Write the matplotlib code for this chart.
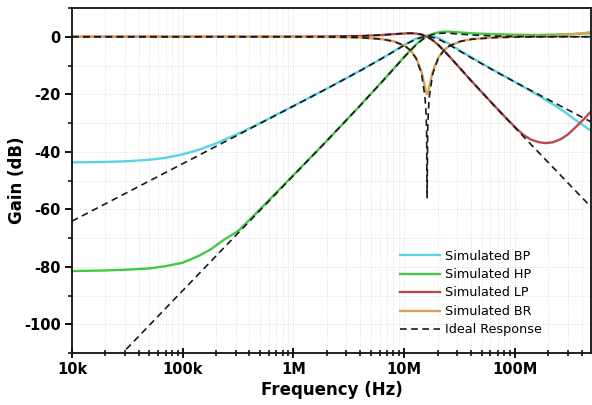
import matplotlib
matplotlib.use("Agg")
import matplotlib.pyplot as plt
from matplotlib.ticker import FixedLocator, LogLocator, NullFormatter, MultipleLocator

plt.rcParams['font.family'] = ['DejaVu Sans']
plt.rcParams['axes.unicode_minus'] = False

# ---------------- data ----------------
F_IDEAL = [1e4, 3.162e4, 1e5, 3.162e5, 1e6, 2.0e6, 3.98e6, 6.31e6, 8.07e6, 1.016e7,
           1.14e7, 1.279e7, 1.435e7, 1.538e7, 1.575e7, 1.592e7, 1.61e7, 1.629e7,
           1.647e7, 1.687e7, 1.807e7, 2.028e7, 2.275e7, 2.553e7, 3.214e7, 4.046e7,
           6.412e7, 1.016e8, 1.61e8, 2.553e8, 4.86e8]
IDEAL_LP = [0, 0, 0, 0, 0.02, 0.07, 0.26, 0.61, 0.91, 1.19, 1.25, 1.15, 0.78, 0.36,
            0.19, 0.10, 0, -0.10, -0.21, -0.44, -1.23, -2.85, -4.75, -6.81, -11.10,
            -15.38, -23.73, -31.89, -39.96, -47.99, -59.2]
IDEAL_BP = [-64.14, -54.14, -44.14, -34.14, -24.12, -18.07, -11.88, -7.53, -5.10,
            -2.81, -1.75, -0.85, -0.23, -0.04, -0.01, 0, 0, 0, -0.01, -0.04, -0.23,
            -0.85, -1.75, -2.81, -5.10, -7.38, -11.73, -15.89, -19.96, -23.99, -29.6]
IDEAL_HP = [-128.3, -108.3, -88.28, -68.28, -48.26, -36.21, -24.02, -15.67, -11.10,
            -6.81, -4.75, -2.85, -1.23, -0.44, -0.21, -0.10, 0, 0.10, 0.19, 0.36,
            0.78, 1.15, 1.25, 1.19, 0.90, 0.62, 0.27, 0.11, 0.04, 0.02, 0]
IDEAL_BR = [0, 0, 0, 0, -0.01, -0.07, -0.29, -0.84, -1.61, -3.22, -4.79, -7.51,
            -12.96, -20.75, -26.75, -32.7, -56, -32.75, -26.75, -20.75, -12.96,
            -7.51, -4.79, -3.22, -1.61, -0.88, -0.30, -0.10, -0.04, -0.02, 0]

F_SIM_BP = [1e4, 2e4, 3.162e4, 5e4, 7e4, 1e5, 1.4e5, 2e5, 3.162e5, 5e5, 1e6, 2e6,
            3.98e6, 6.31e6, 8.07e6, 1.016e7, 1.279e7, 1.435e7, 1.61e7, 1.807e7,
            2.028e7, 2.553e7, 3.214e7, 4.046e7, 6.412e7, 1.016e8, 1.61e8, 2.2e8,
            2.8e8, 3.5e8, 4.86e8]
SIM_BP = [-43.7, -43.55, -43.3, -42.8, -42.1, -40.9, -39.3, -37.1, -33.7, -30.0,
          -24.05, -18.05, -11.85, -7.45, -5.0, -2.7, -0.7, -0.1, 0.3, 0.2, -0.4,
          -2.5, -4.9, -7.2, -11.6, -15.9, -20.3, -23.5, -26.1, -28.9, -32.7]

F_SIM_HP = [1e4, 2e4, 3.162e4, 5e4, 7e4, 1e5, 1.4e5, 1.78e5, 2.4e5, 3.162e5, 4.2e5,
            5.62e5, 7.5e5, 1e6, 2e6, 3.98e6, 6.31e6, 8.07e6, 1.016e7, 1.279e7,
            1.435e7, 1.61e7, 1.807e7, 2.028e7, 2.275e7, 2.553e7, 3.214e7, 4.046e7,
            6.412e7, 1.016e8, 1.61e8, 2.553e8, 4.86e8]
SIM_HP = [-81.5, -81.3, -81.0, -80.6, -79.8, -78.6, -76.2, -74.0, -70.4, -67.6,
          -62.9, -58.0, -53.0, -48.1, -36.2, -24.0, -15.6, -11.0, -6.7, -2.7, -1.0,
          0.3, 1.0, 1.5, 1.8, 1.75, 1.5, 1.2, 0.9, 0.7, 0.6, 0.8, 1.2]

F_SIM_LP = [1e4, 1e5, 1e6, 2e6, 3.98e6, 6.31e6, 8.07e6, 1.016e7, 1.14e7, 1.279e7,
            1.435e7, 1.61e7, 1.807e7, 2.028e7, 2.553e7, 3.214e7, 4.046e7, 6.412e7,
            8e7, 1.016e8, 1.2e8, 1.4e8, 1.65e8, 1.9e8, 2.2e8, 2.6e8, 3.0e8, 3.5e8,
            4.2e8, 4.86e8]
SIM_LP = [0, 0, 0.02, 0.07, 0.26, 0.6, 0.9, 1.15, 1.2, 1.1, 0.75, 0, -1.2, -2.8,
          -6.8, -11.1, -15.4, -23.7, -27.6, -31.7, -34.2, -35.8, -36.7, -37.0,
          -36.7, -35.6, -34.0, -31.6, -28.6, -26.0]

F_SIM_BR = [1e4, 1e6, 2e6, 3.98e6, 6.31e6, 8.07e6, 1.016e7, 1.14e7, 1.279e7,
            1.435e7, 1.538e7, 1.575e7, 1.592e7, 1.61e7, 1.629e7, 1.647e7, 1.687e7,
            1.807e7, 2.028e7, 2.275e7, 2.553e7, 3.214e7, 4.046e7, 6.412e7, 1.016e8,
            1.61e8, 2.0e8, 2.5e8, 3.2e8, 4.0e8, 4.86e8]
SIM_BR = [0, -0.01, -0.07, -0.29, -0.84, -1.6, -3.2, -4.7, -7.3, -12.2, -17.3,
          -19.2, -19.8, -20.0, -19.8, -19.2, -17.3, -12.2, -7.3, -4.7, -3.2, -1.6,
          -0.85, -0.25, 0, 0.1, 0.2, 0.45, 0.8, 1.2, 1.6]

X_TICKS = [1e4, 1e5, 1e6, 1e7, 1e8]
X_TICK_LABELS = ['10k', '100k', '1M', '10M', '100M']
Y_TICKS = [0, -20, -40, -60, -80, -100]

C_BP = '#5ad3e3'
C_HP = '#46c846'
C_LP = '#b94a4c'
C_BR = '#d9a159'

# ---------------- figure ----------------
fig = plt.figure(figsize=(5.92, 4.05), dpi=100)
ax = fig.add_axes([72 / 592, 1 - 353 / 405, (591 - 72) / 592, (353 - 8) / 405])

lw = 1.7
ax.plot(F_SIM_BP, SIM_BP, color=C_BP, lw=lw, label='Simulated BP')
ax.plot(F_SIM_HP, SIM_HP, color=C_HP, lw=lw, label='Simulated HP')
ax.plot(F_SIM_LP, SIM_LP, color=C_LP, lw=lw, label='Simulated LP')
ax.plot(F_SIM_BR, SIM_BR, color=C_BR, lw=lw, label='Simulated BR')

dash_kw = dict(color='#1a1a1a', lw=1.2, dashes=(4, 2.7))
ax.plot(F_IDEAL, IDEAL_LP, label='Ideal Response', **dash_kw)
ax.plot(F_IDEAL, IDEAL_BP, **dash_kw)
ax.plot(F_IDEAL, IDEAL_HP, **dash_kw)
ax.plot(F_IDEAL, IDEAL_BR, **dash_kw)

ax.set_xscale('log')
ax.set_xlim(1e4, 4.86e8)
ax.set_ylim(-110, 10)

ax.xaxis.set_major_locator(FixedLocator(X_TICKS))
ax.set_xticklabels(X_TICK_LABELS)
ax.xaxis.set_minor_locator(LogLocator(base=10, subs=range(2, 10), numticks=20))
ax.xaxis.set_minor_formatter(NullFormatter())
ax.yaxis.set_major_locator(FixedLocator(Y_TICKS))
ax.yaxis.set_minor_locator(MultipleLocator(10))

ax.grid(which='both', color='#e2e2e2', lw=0.6, ls=(0, (1.5, 1.5)), zorder=0)
ax.set_axisbelow(True)

for s in ax.spines.values():
    s.set_linewidth(1.3)
    s.set_color('#111111')

ax.tick_params(axis='y', which='major', direction='out', length=5, width=1.3,
               labelsize=10.5, pad=3)
ax.tick_params(axis='y', which='minor', direction='out', length=3, width=1.1)
ax.tick_params(axis='x', which='major', direction='inout', length=7, width=1.3,
               labelsize=10.5, pad=3)
ax.tick_params(axis='x', which='minor', direction='inout', length=4, width=1.1)
for lab in ax.get_xticklabels() + ax.get_yticklabels():
    lab.set_fontweight('bold')

ax.set_xlabel('Frequency (Hz)', fontsize=12, fontweight='bold', labelpad=3)
ax.set_ylabel('Gain (dB)', fontsize=12, fontweight='bold')
ax.yaxis.set_label_coords(-0.088, 0.5)

leg = ax.legend(loc='upper left', bbox_to_anchor=(0.632, 0.30), frameon=False,
                fontsize=9.2, handlelength=3.1, handletextpad=0.4,
                labelspacing=0.43, borderpad=0, borderaxespad=0)

fig.savefig('out.png', dpi=100)
